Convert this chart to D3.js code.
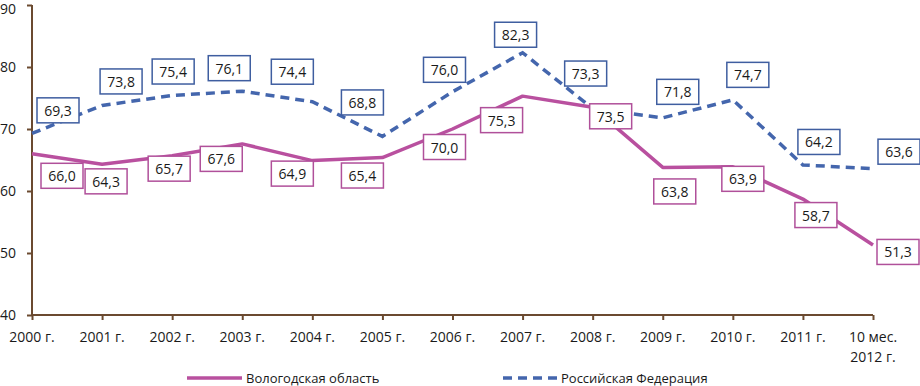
<!DOCTYPE html>
<html>
<head>
<meta charset="utf-8">
<script src="https://cdn.jsdelivr.net/npm/d3@7"></script>
<style>
  html, body { margin: 0; padding: 0; background: #fff; }
  svg { display: block; font-family: "Open Sans", "DejaVu Sans", sans-serif; }
</style>
</head>
<body>
<svg id="chart" width="920" height="386"></svg>
<script>
// ---- data ----
const categories = ["2000 г.", "2001 г.", "2002 г.", "2003 г.", "2004 г.", "2005 г.", "2006 г.", "2007 г.", "2008 г.", "2009 г.", "2010 г.", "2011 г.", "10 мес.\n2012 г."];
const vologda = [66.0, 64.3, 65.7, 67.6, 64.9, 65.4, 70.0, 75.3, 73.5, 63.8, 63.9, 58.7, 51.3];
const russia  = [69.3, 73.8, 75.4, 76.1, 74.4, 68.8, 76.0, 82.3, 73.3, 71.8, 74.7, 64.2, 63.6];
const yTicks = [40, 50, 60, 70, 80, 90];
const seriesNames = ["Вологодская область", "Российская Федерация"];

// label offsets (pixels, relative to the point) as placed in the reference
const russiaLabelOffsets = [[26,-23],[19,-24],[1,-24],[-13,-23],[-20,-30],[-20,-34],[-8,-22],[-7,-18],[-7,-35],[15,-26],[15,-25],[16,-23],[26,-17]];
const vologdaLabelOffsets = [[30,22],[4,17],[-3,13],[-21,15],[-20,13],[-20,18],[-8,18],[-21,24],[18,9],[12,24],[10,12],[13,16],[25,7]];

const pink = "#b9509f";
const pinkBorder = "#b0509a";
const blue = "#4466ad";
const blueBorder = "#3f5ea0";
const axisColor = "#6b4a30";

const svg = d3.select("#chart");
const x = d3.scalePoint().domain(categories).range([32, 873]);
const y = d3.scaleLinear().domain([40, 90]).range([315, 5]);
const fmt = v => d3.format(".1f")(v).replace(".", ",");

// axes
const yAxis = svg.append("g").attr("transform", "translate(32,0)")
  .call(d3.axisLeft(y).tickValues(yTicks).tickSize(5).tickPadding(11).tickFormat(d3.format("d")));
const xAxis = svg.append("g").attr("transform", "translate(0,315)")
  .call(d3.axisBottom(x).tickSize(5).tickFormat(""));
[yAxis, xAxis].forEach(g => {
  g.select(".domain").attr("stroke", axisColor).attr("stroke-width", 2);
  g.selectAll(".tick line").attr("stroke", axisColor).attr("stroke-width", 2);
});
yAxis.selectAll(".tick text").attr("font-size", 14).attr("fill", "#1a1a1a")
  .attr("font-family", "'Open Sans', sans-serif");
// keep the top tick label inside the picture
yAxis.selectAll(".tick text").filter(d => d === 90).attr("dy", "0.62em");
yAxis.select(".domain").attr("d", "M-0,315V5");
xAxis.select(".domain").attr("d", "M32,0H873");

// x labels (multi-line)
const xl = svg.append("g");
categories.forEach(c => {
  const lines = c.split("\n");
  const t = xl.append("text").attr("x", x(c)).attr("text-anchor", "middle")
    .attr("font-size", 14).attr("fill", "#1a1a1a");
  lines.forEach((ln, i) => {
    t.append("tspan").attr("x", x(c)).attr("y", 342 + i * 20).text(ln);
  });
});

// lines
const lineGen = d3.line().x((d, i) => x(categories[i])).y(d => y(d));
svg.append("path").datum(russia).attr("d", lineGen).attr("fill", "none")
  .attr("stroke", blue).attr("stroke-width", 3.5).attr("stroke-dasharray", "9,6");
svg.append("path").datum(vologda).attr("d", lineGen).attr("fill", "none")
  .attr("stroke", pink).attr("stroke-width", 3.5).attr("stroke-linejoin", "round");

// labels
function labels(values, offsets, border) {
  const g = svg.append("g");
  values.forEach((v, i) => {
    const cx = x(categories[i]) + offsets[i][0];
    const cy = y(v) + offsets[i][1];
    g.append("rect").attr("x", cx - 21).attr("y", cy - 12.5).attr("width", 42).attr("height", 25)
      .attr("fill", "#fff").attr("stroke", border).attr("stroke-width", 1.5);
    g.append("text").attr("x", cx).attr("y", cy).attr("text-anchor", "middle")
      .attr("dominant-baseline", "central").attr("font-size", 14).attr("fill", "#1a1a1a").text(fmt(v));
  });
}
labels(russia, russiaLabelOffsets, blueBorder);
labels(vologda, vologdaLabelOffsets, pinkBorder);

// legend
const lg = svg.append("g");
lg.append("line").attr("x1", 187).attr("x2", 242).attr("y1", 378).attr("y2", 378)
  .attr("stroke", pink).attr("stroke-width", 3.5);
lg.append("text").attr("x", 246).attr("y", 378).attr("dominant-baseline", "central")
  .attr("font-size", 13).attr("fill", "#1a1a1a").text(seriesNames[0]);
lg.append("line").attr("x1", 503).attr("x2", 558).attr("y1", 378).attr("y2", 378)
  .attr("stroke", blue).attr("stroke-width", 3.5).attr("stroke-dasharray", "9,6");
lg.append("text").attr("x", 561).attr("y", 378).attr("dominant-baseline", "central")
  .attr("font-size", 13).attr("fill", "#1a1a1a").text(seriesNames[1]);
</script>
</body>
</html>
